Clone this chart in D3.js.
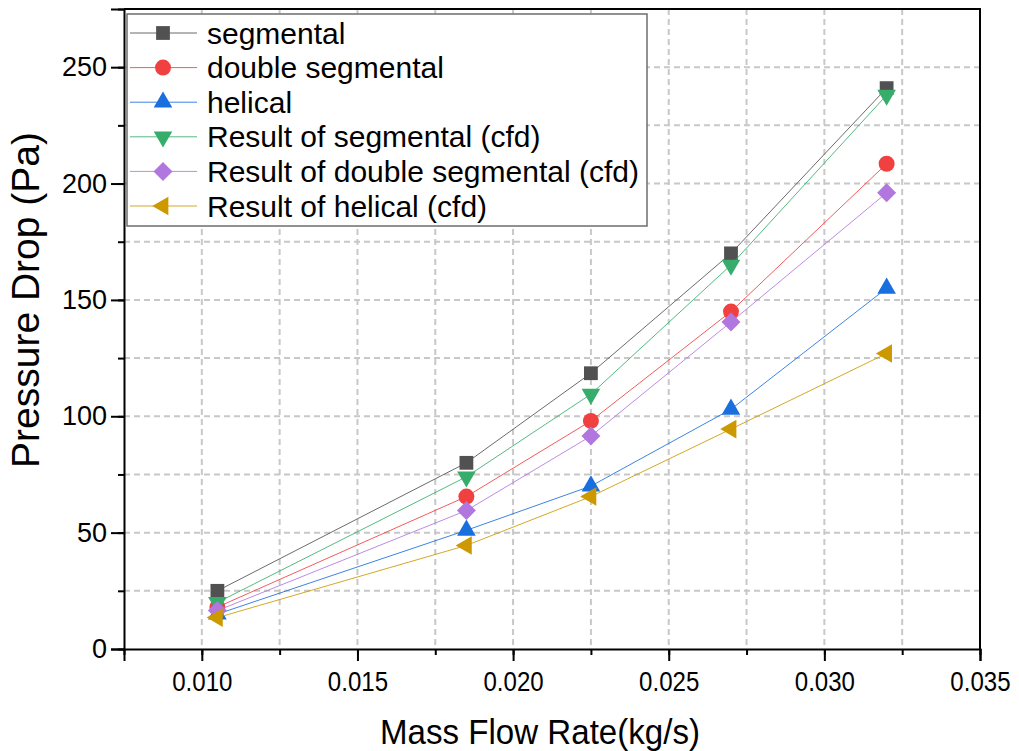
<!DOCTYPE html>
<html>
<head>
<meta charset="utf-8">
<script src="https://cdn.jsdelivr.net/npm/d3@7"></script>
<style>
  body { margin: 0; background: #fff; }
  text { font-family: "Liberation Sans", Arial, sans-serif; fill: #000; }
</style>
</head>
<body>
<div id="wrapper"></div>
<script>
// data
const flowRates = [0.0105, 0.0185, 0.0225, 0.027, 0.032]
const segmental = [25, 80, 118.5, 170, 241]
const doubleSegmental = [18, 65.5, 98, 145, 208.5]
const helical = [15, 51, 70, 103, 155]
const cfdSegmental = [20, 74, 109.5, 165, 238]
const cfdDoubleSegmental = [16.5, 59.5, 91.5, 140.5, 196]
const cfdHelical = [13.5, 44.5, 65.5, 94.5, 127]

const seriesNames = ["segmental", "double segmental", "helical",
  "Result of segmental (cfd)", "Result of double segmental (cfd)", "Result of helical (cfd)"]
const seriesValues = [segmental, doubleSegmental, helical,
  cfdSegmental, cfdDoubleSegmental, cfdHelical]

const xTickLabels = ["0.010", "0.015", "0.020", "0.025", "0.030", "0.035"]
const yTickLabels = ["0", "50", "100", "150", "200", "250"]

function drawChart() {
  const colors = ["#515151", "#F14040", "#1A6FDF", "#37AD6B", "#B177DE", "#CC9900"]
  const shapes = [
    { type: d3.symbolSquare, size: 190, rotate: 0 },
    { type: d3.symbolCircle, size: 200, rotate: 0 },
    { type: d3.symbolTriangle, size: 150, rotate: 0 },
    { type: d3.symbolTriangle, size: 150, rotate: 180 },
    { type: d3.symbolSquare, size: 180, rotate: 45 },
    { type: d3.symbolTriangle, size: 150, rotate: -90 },
  ]

  // 1. dimensions
  let dimensions = {
    width: 1019,
    height: 751,
    margin: { top: 9, right: 39, bottom: 102, left: 124 },
  }
  dimensions.boundedWidth = dimensions.width - dimensions.margin.left - dimensions.margin.right
  dimensions.boundedHeight = dimensions.height - dimensions.margin.top - dimensions.margin.bottom

  // 2. canvas
  const wrapper = d3.select("#wrapper")
    .append("svg")
    .attr("width", dimensions.width)
    .attr("height", dimensions.height)

  const bounds = wrapper.append("g")
    .attr("transform", `translate(${dimensions.margin.left},${dimensions.margin.top})`)

  // 3. scales
  const xScale = d3.scaleLinear()
    .domain([0.0075, 0.035])
    .range([0, dimensions.boundedWidth])

  const yScale = d3.scaleLinear()
    .domain([0, 275])
    .range([dimensions.boundedHeight, 0])

  const xMinor = d3.range(0, 12).map(i => 0.0075 + i * 0.0025)
  const yMinor = d3.range(0, 12).map(i => i * 25)

  // 4. grid
  const grid = bounds.append("g")
    .attr("stroke", "#c8c8c8")
    .attr("stroke-width", 2)
    .attr("stroke-dasharray", "6,4")

  grid.selectAll(".vgrid")
    .data(xMinor.filter(d => d > 0.0076 && d < 0.0349))
    .join("line")
      .attr("x1", d => xScale(d))
      .attr("x2", d => xScale(d))
      .attr("y1", 0)
      .attr("y2", dimensions.boundedHeight)

  grid.selectAll(".hgrid")
    .data(yMinor.filter(d => d > 0 && d < 275))
    .join("line")
      .attr("x1", 0)
      .attr("x2", dimensions.boundedWidth)
      .attr("y1", d => yScale(d))
      .attr("y2", d => yScale(d))

  // 5. axes
  const xAxisMinor = bounds.append("g")
    .attr("transform", `translate(0,${dimensions.boundedHeight})`)
    .call(d3.axisBottom(xScale).tickValues(xMinor).tickSize(6).tickFormat(""))
  xAxisMinor.select(".domain").remove()

  const xAxis = bounds.append("g")
    .attr("transform", `translate(0,${dimensions.boundedHeight})`)
    .call(d3.axisBottom(xScale)
      .tickValues(xTickLabels.map(Number))
      .tickSize(12)
      .tickPadding(10)
      .tickFormat((d, i) => xTickLabels[i]))

  // narrow-looking labels like the original
  xAxis.selectAll(".tick text")
    .attr("font-size", 28)
    .attr("transform", "scale(0.86,1)")
    .attr("y", 22)

  const yAxisMinor = bounds.append("g")
    .call(d3.axisLeft(yScale).tickValues(yMinor).tickSize(6).tickFormat(""))
  yAxisMinor.select(".domain").remove()

  const yAxis = bounds.append("g")
    .call(d3.axisLeft(yScale)
      .tickValues(yTickLabels.map(Number))
      .tickSize(13)
      .tickPadding(4)
      .tickFormat((d, i) => yTickLabels[i]))

  yAxis.selectAll("text")
    .attr("font-size", 27)

  bounds.selectAll(".tick line").attr("stroke", "#000").attr("stroke-width", 2)
  bounds.selectAll(".domain").attr("stroke", "#000").attr("stroke-width", 2)

  // top + right frame
  bounds.append("path")
    .attr("d", `M0,0H${dimensions.boundedWidth}V${dimensions.boundedHeight}`)
    .attr("fill", "none")
    .attr("stroke", "#000")
    .attr("stroke-width", 2)

  // axis labels
  wrapper.append("text")
    .attr("transform", `translate(${dimensions.margin.left + dimensions.boundedWidth / 2 - 12},744) scale(0.92,1)`)
    .attr("text-anchor", "middle")
    .attr("font-size", 36)
    .text("Mass Flow Rate(kg/s)")

  wrapper.append("text")
    .attr("transform", "translate(39,300) rotate(-90)")
    .attr("text-anchor", "middle")
    .attr("font-size", 39)
    .text("Pressure Drop (Pa)")

  // 6. series
  const symbolPath = s => d3.symbol().type(s.type).size(s.size)()
  const lineGenerator = d3.line()
    .x((d, i) => xScale(flowRates[i]))
    .y(d => yScale(d))

  seriesValues.forEach((values, k) => {
    const g = bounds.append("g")
    g.append("path")
      .attr("d", lineGenerator(values))
      .attr("fill", "none")
      .attr("stroke", colors[k])
      .attr("stroke-width", 1)
      .attr("stroke-opacity", 0.85)

    g.selectAll("path.marker")
      .data(values)
      .join("path")
        .attr("class", "marker")
        .attr("d", symbolPath(shapes[k]))
        .attr("fill", colors[k])
        .attr("transform", (d, i) =>
          `translate(${xScale(flowRates[i])},${yScale(d)}) rotate(${shapes[k].rotate})`)
  })

  // 7. legend
  const legend = wrapper.append("g")
    .attr("transform", "translate(127,14)")

  legend.append("rect")
    .attr("width", 520)
    .attr("height", 212)
    .attr("fill", "#fff")
    .attr("stroke", "#6e6e6e")
    .attr("stroke-width", 1.5)

  const rows = legend.selectAll(".row")
    .data(seriesNames)
    .join("g")
      .attr("transform", (d, i) => `translate(0,${19 + i * 34.6})`)

  rows.append("line")
    .attr("x1", 3)
    .attr("x2", 70)
    .attr("stroke", (d, i) => colors[i])
    .attr("stroke-width", 1)
    .attr("stroke-opacity", 0.85)

  rows.append("path")
    .attr("d", (d, i) => symbolPath(shapes[i]))
    .attr("fill", (d, i) => colors[i])
    .attr("transform", (d, i) => `translate(36,0) rotate(${shapes[i].rotate})`)

  rows.append("text")
    .attr("x", 80)
    .attr("dy", "0.35em")
    .attr("font-size", 30)
    .text(d => d)
}
drawChart()
</script>
</body>
</html>
